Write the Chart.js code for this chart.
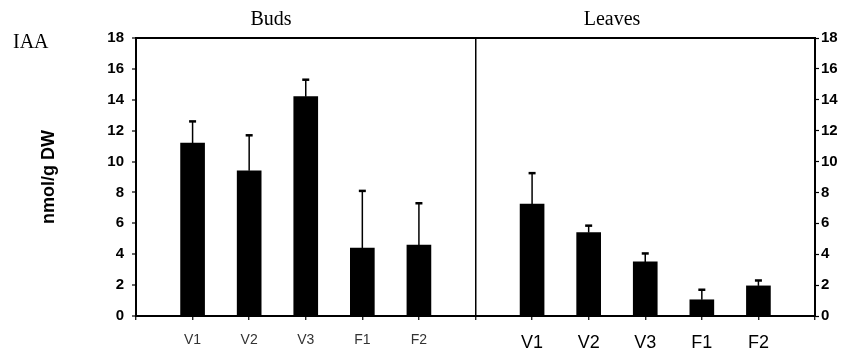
<!DOCTYPE html>
<html>
<head>
<meta charset="utf-8">
<script src="https://cdn.jsdelivr.net/npm/chart.js@4/dist/chart.umd.min.js"></script>
<style>
  html, body { margin: 0; padding: 0; background: #fff; }
  #wrap { width: 857px; height: 355px; }
</style>
</head>
<body>
<div id="wrap"><canvas id="myChart"></canvas></div>
<script>
// categories for each panel
const stages = ['V1', 'V2', 'V3', 'F1', 'F2'];
// IAA, nmol/g DW (mean and +error)
const budsMean = [11.2, 9.4, 14.2, 4.4, 4.6];
const budsErr = [1.4, 2.3, 1.1, 3.7, 2.7];
const leavesMean = [7.25, 5.4, 3.5, 1.05, 1.95];
const leavesErr = [2.0, 0.45, 0.55, 0.65, 0.35];
const yTicks = [0, 2, 4, 6, 8, 10, 12, 14, 16, 18];

// one x axis: empty slot, buds, empty slot (divider), leaves, empty slot
const labels = [''].concat(stages, [''], stages, ['']);
const values = [null].concat(budsMean, [null], leavesMean, [null]);
const errors = [null].concat(budsErr, [null], leavesErr, [null]);
const DIVIDER = 6;

const errorBars = {
    id: 'errorBars',
    afterDatasetsDraw(chart) {
        const ctx = chart.ctx;
        const y = chart.scales.y;
        const meta = chart.getDatasetMeta(0);
        ctx.save();
        ctx.strokeStyle = '#000';
        meta.data.forEach((bar, i) => {
            if (errors[i] == null || values[i] == null) return;
            const top = y.getPixelForValue(values[i] + errors[i]);
            ctx.lineWidth = 1.5;
            ctx.beginPath();
            ctx.moveTo(bar.x, bar.y);
            ctx.lineTo(bar.x, top);
            ctx.stroke();
            ctx.lineWidth = 2.5;
            ctx.beginPath();
            ctx.moveTo(bar.x - 3.5, top);
            ctx.lineTo(bar.x + 3.5, top);
            ctx.stroke();
        });
        ctx.restore();
    }
};

const panelTitles = {
    id: 'panelTitles',
    afterDraw(chart) {
        const ctx = chart.ctx;
        ctx.save();
        ctx.fillStyle = '#000';
        ctx.font = '20px "Liberation Serif", "Times New Roman", serif';
        ctx.textBaseline = 'alphabetic';
        ctx.textAlign = 'left';
        ctx.fillText('IAA', 13, 48);
        ctx.textAlign = 'center';
        ctx.fillText('Buds', 271, 25);
        ctx.fillText('Leaves', 612, 25);
        ctx.restore();
    }
};

const data = {
    labels: labels,
    datasets: [
        {
            label: 'IAA',
            data: values,
            backgroundColor: '#000',
            borderWidth: 0,
            barThickness: 24
        }
    ]
};

const config = {
    type: 'bar',
    data: data,
    plugins: [errorBars, panelTitles],
    options: {
        responsive: true,
        maintainAspectRatio: false,
        animation: false,
        layout: { padding: { top: 38, left: 0, right: 0, bottom: 0 } },
        plugins: {
            legend: { display: false },
            tooltip: { enabled: false },
            title: { display: false }
        },
        scales: {
            x: {
                offset: false,
                grid: {
                    offset: false,
                    drawOnChartArea: true,
                    color: (c) => c.index === DIVIDER ? '#000' : 'rgba(0,0,0,0)',
                    lineWidth: 1.5,
                    tickColor: '#000',
                    tickWidth: 1.2,
                    tickLength: 4
                },
                border: { display: true, color: '#000', width: 2 },
                ticks: {
                    autoSkip: false,
                    maxRotation: 0,
                    padding: 12,
                    color: (c) => c.index < DIVIDER ? '#333' : '#000',
                    font: (c) => ({
                        family: '"Liberation Sans", Arial, sans-serif',
                        size: c.index < DIVIDER ? 14 : 18
                    })
                },
                afterFit: (scale) => { scale.height = 39; }
            },
            y: {
                position: 'left',
                min: 0,
                max: 18,
                afterBuildTicks: (scale) => { scale.ticks = yTicks.map(v => ({ value: v })); },
                grid: {
                    color: (c) => c.tick && c.tick.value === 18 ? '#000' : 'rgba(0,0,0,0)',
                    lineWidth: 2,
                    tickColor: '#000',
                    tickWidth: 1.2,
                    tickLength: 4
                },
                border: { display: true, color: '#000', width: 2 },
                ticks: {
                    padding: 8,
                    color: '#000',
                    font: { family: '"Liberation Sans", Arial, sans-serif', size: 15, weight: 'bold' }
                },
                title: {
                    display: true,
                    text: 'nmol/g DW',
                    color: '#000',
                    padding: { top: 38, bottom: 0 },
                    font: { family: '"Liberation Sans", Arial, sans-serif', size: 18, weight: 'bold' }
                },
                afterFit: (scale) => { scale.width = 136; }
            },
            y2: {
                position: 'right',
                min: 0,
                max: 18,
                afterBuildTicks: (scale) => { scale.ticks = yTicks.map(v => ({ value: v })); },
                grid: {
                    drawOnChartArea: false,
                    tickColor: '#000',
                    tickWidth: 1.2,
                    tickLength: 4
                },
                border: { display: true, color: '#000', width: 2 },
                ticks: {
                    padding: 2,
                    color: '#000',
                    font: { family: '"Liberation Sans", Arial, sans-serif', size: 15, weight: 'bold' }
                },
                afterFit: (scale) => { scale.width = 42; }
            }
        }
    }
};

new Chart(document.getElementById('myChart'), config);
</script>
</body>
</html>
